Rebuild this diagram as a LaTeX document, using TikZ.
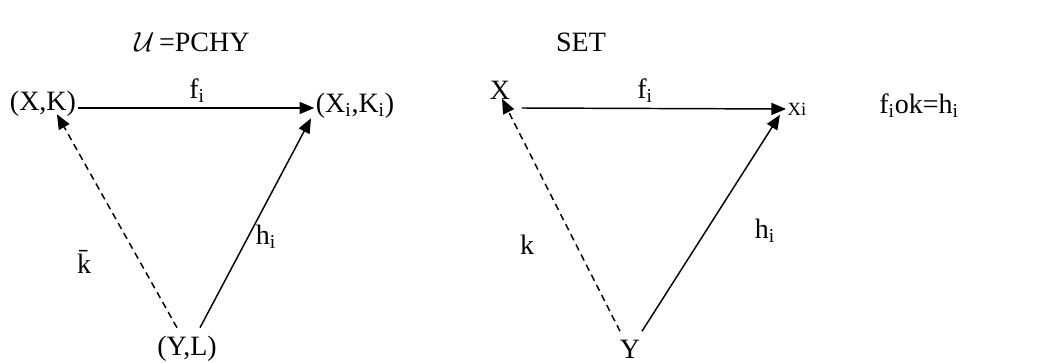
\documentclass[tikz,border=0pt]{standalone}
\usepackage{fontspec}
\setmainfont{Liberation Serif}
\usepackage{tikz}
\usetikzlibrary{arrows.meta, positioning, calc}
\tikzset{
    obj/.style={inner sep=1pt, font=\fontsize{21}{25}\selectfont},
    lbl/.style={inner sep=1pt, font=\fontsize{21}{25}\selectfont},
    arrowline/.style={-{Triangle[length=11pt, width=9pt]}, line width=1.1pt},
    dasharrow/.style={-{Triangle[length=11pt, width=9pt]}, line width=1.1pt, dash pattern=on 5pt off 3.5pt}
}
\begin{document}
\begin{tikzpicture}[x=0.75pt, y=-0.75pt]
  \useasboundingbox (0,0) rectangle (1055,363);
  % titles
  \node[lbl] (cat) at (192,42) {$\mathcal{U}$\,=PCHY};
  \node[lbl] (set) at (581,42) {SET};
  % left triangle
  \node[obj] (xk) at (43,104) {(X,K)};
  \node[obj] (xiki) at (355,106) {(X\textsubscript{i},K\textsubscript{i})};
  \node[obj] (yl) at (187,349) {(Y,L)};
  \draw[arrowline] ($(xk.east)+(0,4)$) -- ($(xiki.west)+(0,2)$);
  \draw[dasharrow] ($(yl.north)+(-10,-7)$) -- ($(xk.south)+(14,-4)$);
  \draw[arrowline] ($(yl.north)+(13,-7)$) -- ($(xiki.south)+(-44,-2)$);
  \node[lbl] (fa) at (197,91) {f\textsubscript{i}};
  \node[lbl] (kbar) at (84,262) {\=k};
  \node[lbl] (ha) at (266,237) {h\textsubscript{i}};
  % right triangle
  \node[obj] (x) at (500,90) {X};
  \node[obj, font=\fontsize{14}{16}\selectfont] (xi) at (797,109) {Xi};
  \node[obj] (y) at (630,349) {Y};
  \draw[arrowline] ($(x.east)+(10,18)$) -- (xi.west);
  \draw[dasharrow] ($(y.north)+(-10,-7)$) -- ($(x.south)+(2,-2)$);
  \draw[arrowline] ($(y.north)+(12,-7)$) -- ($(xi.south)+(-17,-2)$);
  \node[lbl] (fb) at (645,91) {f\textsubscript{i}};
  \node[lbl] (k) at (527,245) {k};
  \node[lbl] (hb) at (765,231) {h\textsubscript{i}};
  \node[lbl] (eq) at (919,106) {f\textsubscript{i}ok=h\textsubscript{i}};
\end{tikzpicture}
\end{document}
